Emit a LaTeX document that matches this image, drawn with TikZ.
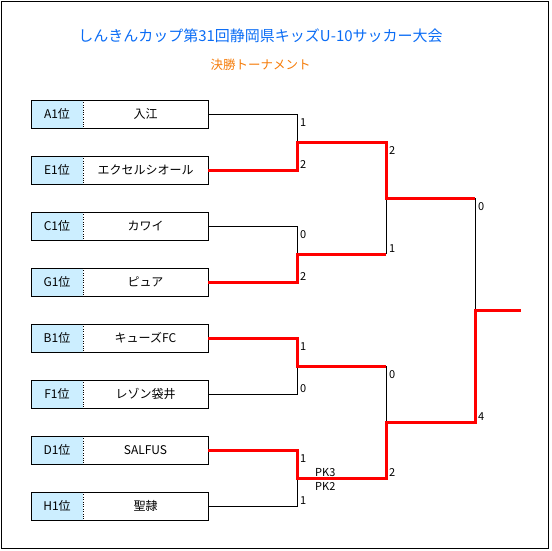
\documentclass[tikz,border=0pt]{standalone}
\usepackage{fontspec}
\setmainfont{Noto Sans CJK JP}
\usepackage{tikz}
\usepackage{xcolor}
\usetikzlibrary{positioning}
\definecolor{TitleBlue}{HTML}{0A6CF5}
\definecolor{SubOrange}{HTML}{F57C0A}
\definecolor{SeedBlue}{HTML}{CCEEFF}
\definecolor{WinRed}{HTML}{FF0000}

\begin{document}
\begin{tikzpicture}[
  x=1pt,y=-1pt,
  node distance=28pt,
  title/.style={font=\fontsize{15}{17}\selectfont,text=TitleBlue,inner sep=0pt},
  subtitle/.style={font=\fontsize{12.5}{14}\selectfont,text=SubOrange,inner sep=0pt},
  seed/.style={fill=SeedBlue,minimum width=52pt,minimum height=28pt,inner sep=0pt,outer sep=0pt,font=\fontsize{12}{14}\selectfont},
  team/.style={fill=white,minimum width=125pt,minimum height=28pt,inner sep=0pt,outer sep=0pt,font=\fontsize{12}{14}\selectfont},
  lose/.style={draw=black,line width=1pt},
  win/.style={draw=WinRed,line width=3pt},
  scoretop/.style={anchor=north west,inner sep=0pt,xshift=3pt,yshift=-4pt,font=\fontsize{11}{12}\selectfont},
  scorebot/.style={anchor=south west,inner sep=0pt,xshift=3pt,yshift=1.5pt,font=\fontsize{11}{12}\selectfont}
]
\useasboundingbox (0,0) rectangle (551,551);
\draw[line width=1.5pt] (1.5,1.5) rectangle (548.5,548.5);

\node[title] (title) at (260.5,36) {しんきんカップ第31回静岡県キッズU-10サッカー大会};
\node[subtitle] (subtitle) at (260.5,65) {決勝トーナメント};

% entries
\node[seed] (a1) at (57,114) {A1位};
\node[seed,below=of a1] (e1) {E1位};
\node[seed,below=of e1] (c1) {C1位};
\node[seed,below=of c1] (g1) {G1位};
\node[seed,below=of g1] (b1) {B1位};
\node[seed,below=of b1] (f1) {F1位};
\node[seed,below=of f1] (d1) {D1位};
\node[seed,below=of d1] (h1) {H1位};
\node[team,right=0pt of a1] (irie) {入江};
\node[team,right=0pt of e1] (excel) {エクセルシオール};
\node[team,right=0pt of c1] (kawai) {カワイ};
\node[team,right=0pt of g1] (pure) {ピュア};
\node[team,right=0pt of b1] (kyuz) {キューズFC};
\node[team,right=0pt of f1] (reizon) {レゾン袋井};
\node[team,right=0pt of d1] (salfus) {SALFUS};
\node[team,right=0pt of h1] (seirei) {聖隷};
\foreach \s/\t in {a1/irie,e1/excel,c1/kawai,g1/pure,b1/kyuz,f1/reizon,d1/salfus,h1/seirei}{
  \draw (\s.north west) rectangle (\t.south east);
  \draw[dotted] (\s.north east) -- (\s.south east);
}

% bracket points
\coordinate (m1) at (297,142);
\coordinate (m2) at (297,254);
\coordinate (m3) at (297,366);
\coordinate (m4) at (297,478);
\coordinate (s1) at (386,198);
\coordinate (s2) at (386,422);
\coordinate (fin) at (475,310);
\coordinate (champ) at (521,310);

% lost branches
\draw[lose] (irie.east) -| (m1);
\draw[lose] (kawai.east) -| (m2);
\draw[lose] (reizon.east) -| (m3);
\draw[lose] (seirei.east) -| (m4);
\draw[lose] (m2 -| s1) -- (s1);
\draw[lose] (m3 -| s2) -- (s2);
\draw[lose] (s1 -| fin) -- (fin);

% winners
\draw[win] (excel.east) -| (m1) -- (m1 -| s1) -- (s1) -- (s1 -| fin);
\draw[win] (pure.east) -| (m2) -- (m2 -| s1);
\draw[win] (kyuz.east) -| (m3) -- (m3 -| s2);
\draw[win] (salfus.east) -| (m4) -- (m4 -| s2) -- (s2) -- (s2 -| fin) -- (fin) -- (champ);

% scores
\node[scoretop] (sc1) at (irie.east -| m1) {1};
\node[scorebot] (sc2) at (excel.east -| m1) {2};
\node[scoretop] (sc3) at (kawai.east -| m2) {0};
\node[scorebot] (sc4) at (pure.east -| m2) {2};
\node[scoretop] (sc5) at (kyuz.east -| m3) {1};
\node[scorebot] (sc6) at (reizon.east -| m3) {0};
\node[scoretop] (sc7) at (salfus.east -| m4) {1};
\node[scorebot] (sc8) at (seirei.east -| m4) {1};
\node[scorebot,xshift=15pt] (pk1) at (m4) {PK3};
\node[scoretop,xshift=15pt] (pk2) at (m4) {PK2};
\node[scoretop] (sc9) at (m1 -| s1) {2};
\node[scorebot] (sc10) at (m2 -| s1) {1};
\node[scoretop] (sc11) at (m3 -| s2) {0};
\node[scorebot] (sc12) at (m4 -| s2) {2};
\node[scoretop] (sc13) at (s1 -| fin) {0};
\node[scorebot] (sc14) at (s2 -| fin) {4};
\end{tikzpicture}
\end{document}
